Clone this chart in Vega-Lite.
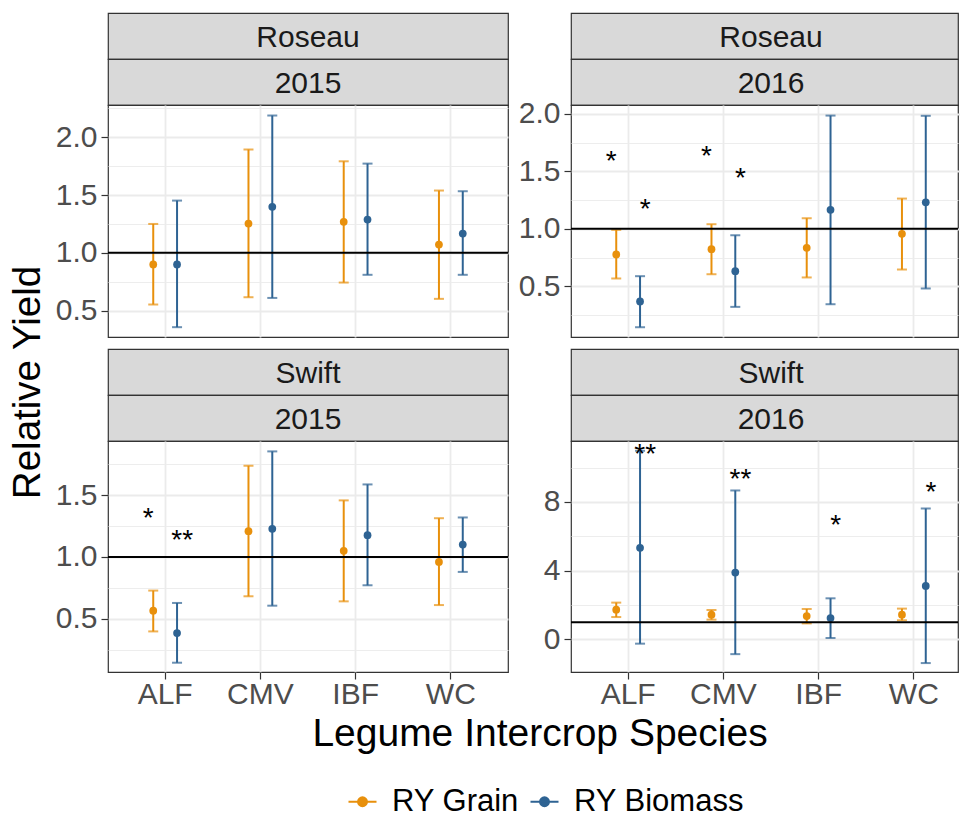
{
"$schema": "https://vega.github.io/schema/vega-lite/v6.json",
"padding": {"left": 9, "top": 12, "right": 0, "bottom": 0},
"background": "white",
"config": {"font": "Liberation Sans", "view": {"stroke": null}},
"datasets": {
"ry": [
{"location":"Roseau","year":"2015","species":"ALF","measure":"RY Grain","ry":0.90,"lo":0.553,"hi":1.25},
{"location":"Roseau","year":"2015","species":"ALF","measure":"RY Biomass","ry":0.90,"lo":0.357,"hi":1.452},
{"location":"Roseau","year":"2015","species":"CMV","measure":"RY Grain","ry":1.253,"lo":0.616,"hi":1.894},
{"location":"Roseau","year":"2015","species":"CMV","measure":"RY Biomass","ry":1.398,"lo":0.61,"hi":2.188},
{"location":"Roseau","year":"2015","species":"IBF","measure":"RY Grain","ry":1.268,"lo":0.743,"hi":1.792},
{"location":"Roseau","year":"2015","species":"IBF","measure":"RY Biomass","ry":1.288,"lo":0.81,"hi":1.772},
{"location":"Roseau","year":"2015","species":"WC","measure":"RY Grain","ry":1.072,"lo":0.602,"hi":1.539},
{"location":"Roseau","year":"2015","species":"WC","measure":"RY Biomass","ry":1.167,"lo":0.81,"hi":1.533},
{"location":"Roseau","year":"2016","species":"ALF","measure":"RY Grain","ry":0.777,"lo":0.568,"hi":0.991},
{"location":"Roseau","year":"2016","species":"ALF","measure":"RY Biomass","ry":0.368,"lo":0.144,"hi":0.588},
{"location":"Roseau","year":"2016","species":"CMV","measure":"RY Grain","ry":0.823,"lo":0.605,"hi":1.04},
{"location":"Roseau","year":"2016","species":"CMV","measure":"RY Biomass","ry":0.631,"lo":0.321,"hi":0.944},
{"location":"Roseau","year":"2016","species":"IBF","measure":"RY Grain","ry":0.835,"lo":0.577,"hi":1.092},
{"location":"Roseau","year":"2016","species":"IBF","measure":"RY Biomass","ry":1.165,"lo":0.344,"hi":1.985},
{"location":"Roseau","year":"2016","species":"WC","measure":"RY Grain","ry":0.957,"lo":0.646,"hi":1.263},
{"location":"Roseau","year":"2016","species":"WC","measure":"RY Biomass","ry":1.231,"lo":0.481,"hi":1.983},
{"location":"Swift","year":"2015","species":"ALF","measure":"RY Grain","ry":0.566,"lo":0.398,"hi":0.728},
{"location":"Swift","year":"2015","species":"ALF","measure":"RY Biomass","ry":0.385,"lo":0.145,"hi":0.628},
{"location":"Swift","year":"2015","species":"CMV","measure":"RY Grain","ry":1.208,"lo":0.682,"hi":1.737},
{"location":"Swift","year":"2015","species":"CMV","measure":"RY Biomass","ry":1.227,"lo":0.606,"hi":1.853},
{"location":"Swift","year":"2015","species":"IBF","measure":"RY Grain","ry":1.049,"lo":0.641,"hi":1.457},
{"location":"Swift","year":"2015","species":"IBF","measure":"RY Biomass","ry":1.176,"lo":0.771,"hi":1.586},
{"location":"Swift","year":"2015","species":"WC","measure":"RY Grain","ry":0.960,"lo":0.611,"hi":1.313},
{"location":"Swift","year":"2015","species":"WC","measure":"RY Biomass","ry":1.10,"lo":0.879,"hi":1.319},
{"location":"Swift","year":"2016","species":"ALF","measure":"RY Grain","ry":1.73,"lo":1.30,"hi":2.14},
{"location":"Swift","year":"2016","species":"ALF","measure":"RY Biomass","ry":5.33,"lo":-0.25,"hi":10.98},
{"location":"Swift","year":"2016","species":"CMV","measure":"RY Grain","ry":1.44,"lo":1.15,"hi":1.71},
{"location":"Swift","year":"2016","species":"CMV","measure":"RY Biomass","ry":3.89,"lo":-0.86,"hi":8.67},
{"location":"Swift","year":"2016","species":"IBF","measure":"RY Grain","ry":1.36,"lo":0.93,"hi":1.77},
{"location":"Swift","year":"2016","species":"IBF","measure":"RY Biomass","ry":1.24,"lo":0.08,"hi":2.39},
{"location":"Swift","year":"2016","species":"WC","measure":"RY Grain","ry":1.44,"lo":1.11,"hi":1.79},
{"location":"Swift","year":"2016","species":"WC","measure":"RY Biomass","ry":3.11,"lo":-1.38,"hi":7.62}
],
"stars": [
{"location":"Roseau","year":"2016","species":"ALF","measure":"RY Grain","label":"*","y":1.623},
{"location":"Roseau","year":"2016","species":"ALF","measure":"RY Biomass","label":"*","y":1.211},
{"location":"Roseau","year":"2016","species":"CMV","measure":"RY Grain","label":"*","y":1.666},
{"location":"Roseau","year":"2016","species":"CMV","measure":"RY Biomass","label":"*","y":1.478},
{"location":"Swift","year":"2015","species":"ALF","measure":"RY Grain","label":"*","y":1.35},
{"location":"Swift","year":"2015","species":"ALF","measure":"RY Biomass","label":"**","y":1.168},
{"location":"Swift","year":"2016","species":"ALF","measure":"RY Biomass","label":"**","y":11.02},
{"location":"Swift","year":"2016","species":"CMV","measure":"RY Biomass","label":"**","y":9.56},
{"location":"Swift","year":"2016","species":"IBF","measure":"RY Biomass","label":"*","y":6.90},
{"location":"Swift","year":"2016","species":"WC","measure":"RY Biomass","label":"*","y":8.79}
]
},
"spacing": 6,
"hconcat": [
{
"width": 30, "height": 300,
"data": {"values": [{"t": "Relative Yield"}]},
"mark": {"type": "text", "angle": 270, "fontSize": 38.5, "color": "#000000", "baseline": "middle"},
"encoding": {"y": {"field": "t", "type": "nominal", "axis": null, "scale": {"range": [0, 739]}}, "text": {"field": "t"}}
},
{
"spacing": 4,
"vconcat": [
{
"spacing": 10,
"vconcat": [
{
"spacing": 7,
"hconcat": [
{
"spacing": 0, "bounds": "flush",
"vconcat": [
{"width": 400, "height": 46, "view": {"fill": "#d9d9d9", "stroke": "#333333", "strokeWidth": 1.2}, "data": {"values": [{"s": "Roseau"}]}, "mark": {"type": "text", "fontSize": 30, "color": "#1a1a1a", "baseline": "middle", "dy": 1.5}, "encoding": {"x": {"field": "s", "type": "nominal", "axis": null, "scale": {"range": [0, 400]}}, "text": {"field": "s"}}},
{"width": 400, "height": 46, "view": {"fill": "#d9d9d9", "stroke": "#333333", "strokeWidth": 1.2}, "data": {"values": [{"s": "2015"}]}, "mark": {"type": "text", "fontSize": 30, "color": "#1a1a1a", "baseline": "middle", "dy": 1.5}, "encoding": {"x": {"field": "s", "type": "nominal", "axis": null, "scale": {"range": [0, 400]}}, "text": {"field": "s"}}},
{
"width": 400, "height": 232,
"view": {"stroke": "#333333", "strokeWidth": 1.2},
"layer": [
{
"data": {"name": "ry"},
"transform": [{"filter": "datum.location === 'Roseau' && datum.year === '2015'"}],
"encoding": {
"x": {"field": "species", "type": "nominal", "title": null, "scale": {"domain": ["ALF","CMV","IBF","WC"], "paddingInner": 0.5, "paddingOuter": 0.35}, "axis": {"title": null, "labels": false, "ticks": false, "domain": false, "grid": true, "gridColor": "#ebebeb", "gridWidth": 1.8, "bandPosition": 0.5}},
"xOffset": {"field": "measure", "type": "nominal", "scale": {"domain": ["RY Grain","RY Biomass"]}},
"color": {"field": "measure", "type": "nominal", "scale": {"domain": ["RY Grain","RY Biomass"], "range": ["#E8900C","#2E6393"]}, "legend": {"title": null, "orient": "none", "legendX": 334, "legendY": 773, "direction": "horizontal", "labelFontSize": 31, "labelLimit": 0, "labelColor": "#000000", "symbolType": "M-1,0H1M-0.32,0A0.32,0.32,0,1,1,0.32,0A0.32,0.32,0,1,1,-0.32,0Z", "symbolSize": 784, "symbolStrokeWidth": 2, "labelOffset": 14, "columnPadding": 7, "encode": {"symbols": {"update": {"stroke": {"scale": "color", "field": "value"}, "fill": {"scale": "color", "field": "value"}, "opacity": {"value": 1}}}}}}
},
"layer": [
{"mark": {"type": "rule", "strokeWidth": 2}, "encoding": {"y": {"field": "lo", "type": "quantitative", "title": null, "scale": {"domain": [0.272, 2.279], "nice": false, "zero": false}, "axis": {"title": null, "orient": "left", "values": [0.5,1,1.5,2], "format": ".1f", "labelOverlap": false, "tickSize": 7, "tickWidth": 1.2, "tickColor": "#333333", "grid": true, "gridColor": "#ebebeb", "gridWidth": 1.8, "domain": false, "labelFontSize": 30, "labelColor": "#4d4d4d", "labelPadding": 4, "minExtent": 53, "maxExtent": 53}}, "y2": {"field": "hi"}}},
{"mark": {"type": "tick", "thickness": 2, "size": 10}, "encoding": {"y": {"field": "lo", "type": "quantitative", "title": null}}},
{"mark": {"type": "tick", "thickness": 2, "size": 10}, "encoding": {"y": {"field": "hi", "type": "quantitative", "title": null}}},
{"mark": {"type": "point", "filled": true, "size": 60, "opacity": 1}, "encoding": {"y": {"field": "ry", "type": "quantitative", "title": null}}}
]
},
{"data": {"values": [{"ref": 1}]}, "mark": {"type": "rule", "color": "black", "strokeWidth": 2}, "encoding": {"y": {"field": "ref", "type": "quantitative", "title": null, "axis": {"title": null, "orient": "left", "values": [0.75,1.25,1.75,2.25], "labels": false, "ticks": false, "domain": false, "grid": true, "gridColor": "#ebebeb", "gridWidth": 0.9, "minExtent": 0, "maxExtent": 0}}}}
],
"resolve": {"axis": {"y": "independent"}}
}
]
},
{
"spacing": 0, "bounds": "flush",
"vconcat": [
{"width": 387, "height": 46, "view": {"fill": "#d9d9d9", "stroke": "#333333", "strokeWidth": 1.2}, "data": {"values": [{"s": "Roseau"}]}, "mark": {"type": "text", "fontSize": 30, "color": "#1a1a1a", "baseline": "middle", "dy": 1.5}, "encoding": {"x": {"field": "s", "type": "nominal", "axis": null, "scale": {"range": [0, 400]}}, "text": {"field": "s"}}},
{"width": 387, "height": 46, "view": {"fill": "#d9d9d9", "stroke": "#333333", "strokeWidth": 1.2}, "data": {"values": [{"s": "2016"}]}, "mark": {"type": "text", "fontSize": 30, "color": "#1a1a1a", "baseline": "middle", "dy": 1.5}, "encoding": {"x": {"field": "s", "type": "nominal", "axis": null, "scale": {"range": [0, 400]}}, "text": {"field": "s"}}},
{
"width": 387, "height": 232,
"view": {"stroke": "#333333", "strokeWidth": 1.2},
"layer": [
{
"data": {"name": "ry"},
"transform": [{"filter": "datum.location === 'Roseau' && datum.year === '2016'"}],
"encoding": {
"x": {"field": "species", "type": "nominal", "title": null, "scale": {"domain": ["ALF","CMV","IBF","WC"], "paddingInner": 0.5, "paddingOuter": 0.35, "range": [0, 400]}, "axis": {"title": null, "labels": false, "ticks": false, "domain": false, "grid": true, "gridColor": "#ebebeb", "gridWidth": 1.8, "bandPosition": 0.5}},
"xOffset": {"field": "measure", "type": "nominal", "scale": {"domain": ["RY Grain","RY Biomass"]}},
"color": {"field": "measure", "type": "nominal", "scale": {"domain": ["RY Grain","RY Biomass"], "range": ["#E8900C","#2E6393"]}, "legend": {"title": null, "orient": "none", "legendX": 334, "legendY": 773, "direction": "horizontal", "labelFontSize": 31, "labelLimit": 0, "labelColor": "#000000", "symbolType": "M-1,0H1M-0.32,0A0.32,0.32,0,1,1,0.32,0A0.32,0.32,0,1,1,-0.32,0Z", "symbolSize": 784, "symbolStrokeWidth": 2, "labelOffset": 14, "columnPadding": 7, "encode": {"symbols": {"update": {"stroke": {"scale": "color", "field": "value"}, "fill": {"scale": "color", "field": "value"}, "opacity": {"value": 1}}}}}}
},
"layer": [
{"mark": {"type": "rule", "strokeWidth": 2}, "encoding": {"y": {"field": "lo", "type": "quantitative", "title": null, "scale": {"domain": [0.059, 2.077], "nice": false, "zero": false}, "axis": {"title": null, "orient": "left", "values": [0.5,1,1.5,2], "format": ".1f", "labelOverlap": false, "tickSize": 7, "tickWidth": 1.2, "tickColor": "#333333", "grid": true, "gridColor": "#ebebeb", "gridWidth": 1.8, "domain": false, "labelFontSize": 30, "labelColor": "#4d4d4d", "labelPadding": 4, "minExtent": 53, "maxExtent": 53}}, "y2": {"field": "hi"}}},
{"mark": {"type": "tick", "thickness": 2, "size": 10}, "encoding": {"y": {"field": "lo", "type": "quantitative", "title": null}}},
{"mark": {"type": "tick", "thickness": 2, "size": 10}, "encoding": {"y": {"field": "hi", "type": "quantitative", "title": null}}},
{"mark": {"type": "point", "filled": true, "size": 60, "opacity": 1}, "encoding": {"y": {"field": "ry", "type": "quantitative", "title": null}}}
]
},
{"data": {"values": [{"ref": 1}]}, "mark": {"type": "rule", "color": "black", "strokeWidth": 2}, "encoding": {"y": {"field": "ref", "type": "quantitative", "title": null, "axis": {"title": null, "orient": "left", "values": [0.25,0.75,1.25,1.75], "labels": false, "ticks": false, "domain": false, "grid": true, "gridColor": "#ebebeb", "gridWidth": 0.9, "minExtent": 0, "maxExtent": 0}}}},
{"data": {"name": "stars"}, "transform": [{"filter": "datum.location === 'Roseau' && datum.year === '2016'"}], "mark": {"type": "text", "fontSize": 28, "baseline": "middle", "dy": 5, "clip": true, "color": "#000000"}, "encoding": {"x": {"field": "species", "type": "nominal", "title": null}, "xOffset": {"field": "measure", "type": "nominal", "scale": {"type": "point", "domain": ["RY Grain","RY Biomass"], "padding": 0.2}}, "y": {"field": "y", "type": "quantitative", "title": null, "axis": null}, "text": {"field": "label"}}}
],
"resolve": {"scale": {"xOffset": "independent"}, "axis": {"y": "independent"}}
}
]
}
]
},
{
"spacing": 7,
"hconcat": [
{
"spacing": 0, "bounds": "flush",
"vconcat": [
{"width": 400, "height": 46, "view": {"fill": "#d9d9d9", "stroke": "#333333", "strokeWidth": 1.2}, "data": {"values": [{"s": "Swift"}]}, "mark": {"type": "text", "fontSize": 30, "color": "#1a1a1a", "baseline": "middle", "dy": 1.5}, "encoding": {"x": {"field": "s", "type": "nominal", "axis": null, "scale": {"range": [0, 400]}}, "text": {"field": "s"}}},
{"width": 400, "height": 46, "view": {"fill": "#d9d9d9", "stroke": "#333333", "strokeWidth": 1.2}, "data": {"values": [{"s": "2015"}]}, "mark": {"type": "text", "fontSize": 30, "color": "#1a1a1a", "baseline": "middle", "dy": 1.5}, "encoding": {"x": {"field": "s", "type": "nominal", "axis": null, "scale": {"range": [0, 400]}}, "text": {"field": "s"}}},
{
"width": 400, "height": 231,
"view": {"stroke": "#333333", "strokeWidth": 1.2},
"layer": [
{
"data": {"name": "ry"},
"transform": [{"filter": "datum.location === 'Swift' && datum.year === '2015'"}],
"encoding": {
"x": {"field": "species", "type": "nominal", "title": null, "scale": {"domain": ["ALF","CMV","IBF","WC"], "paddingInner": 0.5, "paddingOuter": 0.35}, "axis": {"title": null, "labels": true, "ticks": true, "tickSize": 7, "tickWidth": 1.2, "tickColor": "#333333", "domain": false, "grid": true, "gridColor": "#ebebeb", "gridWidth": 1.8, "bandPosition": 0.5, "labelFontSize": 30, "labelColor": "#4d4d4d", "labelPadding": 0.5, "labelAngle": 0}},
"xOffset": {"field": "measure", "type": "nominal", "scale": {"domain": ["RY Grain","RY Biomass"]}},
"color": {"field": "measure", "type": "nominal", "scale": {"domain": ["RY Grain","RY Biomass"], "range": ["#E8900C","#2E6393"]}, "legend": {"title": null, "orient": "none", "legendX": 334, "legendY": 773, "direction": "horizontal", "labelFontSize": 31, "labelLimit": 0, "labelColor": "#000000", "symbolType": "M-1,0H1M-0.32,0A0.32,0.32,0,1,1,0.32,0A0.32,0.32,0,1,1,-0.32,0Z", "symbolSize": 784, "symbolStrokeWidth": 2, "labelOffset": 14, "columnPadding": 7, "encode": {"symbols": {"update": {"stroke": {"scale": "color", "field": "value"}, "fill": {"scale": "color", "field": "value"}, "opacity": {"value": 1}}}}}}
},
"layer": [
{"mark": {"type": "rule", "strokeWidth": 2}, "encoding": {"y": {"field": "lo", "type": "quantitative", "title": null, "scale": {"domain": [0.070, 1.937], "nice": false, "zero": false}, "axis": {"title": null, "orient": "left", "values": [0.5,1,1.5], "format": ".1f", "labelOverlap": false, "tickSize": 7, "tickWidth": 1.2, "tickColor": "#333333", "grid": true, "gridColor": "#ebebeb", "gridWidth": 1.8, "domain": false, "labelFontSize": 30, "labelColor": "#4d4d4d", "labelPadding": 4, "minExtent": 53, "maxExtent": 53}}, "y2": {"field": "hi"}}},
{"mark": {"type": "tick", "thickness": 2, "size": 10}, "encoding": {"y": {"field": "lo", "type": "quantitative", "title": null}}},
{"mark": {"type": "tick", "thickness": 2, "size": 10}, "encoding": {"y": {"field": "hi", "type": "quantitative", "title": null}}},
{"mark": {"type": "point", "filled": true, "size": 60, "opacity": 1}, "encoding": {"y": {"field": "ry", "type": "quantitative", "title": null}}}
]
},
{"data": {"values": [{"ref": 1}]}, "mark": {"type": "rule", "color": "black", "strokeWidth": 2}, "encoding": {"y": {"field": "ref", "type": "quantitative", "title": null, "axis": {"title": null, "orient": "left", "values": [0.25,0.75,1.25,1.75], "labels": false, "ticks": false, "domain": false, "grid": true, "gridColor": "#ebebeb", "gridWidth": 0.9, "minExtent": 0, "maxExtent": 0}}}},
{"data": {"name": "stars"}, "transform": [{"filter": "datum.location === 'Swift' && datum.year === '2015'"}], "mark": {"type": "text", "fontSize": 28, "baseline": "middle", "dy": 5, "clip": true, "color": "#000000"}, "encoding": {"x": {"field": "species", "type": "nominal", "title": null}, "xOffset": {"field": "measure", "type": "nominal", "scale": {"type": "point", "domain": ["RY Grain","RY Biomass"], "padding": 0.2}}, "y": {"field": "y", "type": "quantitative", "title": null, "axis": null}, "text": {"field": "label"}}}
],
"resolve": {"scale": {"xOffset": "independent"}, "axis": {"y": "independent"}}
}
]
},
{
"spacing": 0, "bounds": "flush",
"vconcat": [
{"width": 387, "height": 46, "view": {"fill": "#d9d9d9", "stroke": "#333333", "strokeWidth": 1.2}, "data": {"values": [{"s": "Swift"}]}, "mark": {"type": "text", "fontSize": 30, "color": "#1a1a1a", "baseline": "middle", "dy": 1.5}, "encoding": {"x": {"field": "s", "type": "nominal", "axis": null, "scale": {"range": [0, 400]}}, "text": {"field": "s"}}},
{"width": 387, "height": 46, "view": {"fill": "#d9d9d9", "stroke": "#333333", "strokeWidth": 1.2}, "data": {"values": [{"s": "2016"}]}, "mark": {"type": "text", "fontSize": 30, "color": "#1a1a1a", "baseline": "middle", "dy": 1.5}, "encoding": {"x": {"field": "s", "type": "nominal", "axis": null, "scale": {"range": [0, 400]}}, "text": {"field": "s"}}},
{
"width": 387, "height": 231,
"view": {"stroke": "#333333", "strokeWidth": 1.2},
"layer": [
{
"data": {"name": "ry"},
"transform": [{"filter": "datum.location === 'Swift' && datum.year === '2016'"}],
"encoding": {
"x": {"field": "species", "type": "nominal", "title": null, "scale": {"domain": ["ALF","CMV","IBF","WC"], "paddingInner": 0.5, "paddingOuter": 0.35, "range": [0, 400]}, "axis": {"title": null, "labels": true, "ticks": true, "tickSize": 7, "tickWidth": 1.2, "tickColor": "#333333", "domain": false, "grid": true, "gridColor": "#ebebeb", "gridWidth": 1.8, "bandPosition": 0.5, "labelFontSize": 30, "labelColor": "#4d4d4d", "labelPadding": 0.5, "labelAngle": 0}},
"xOffset": {"field": "measure", "type": "nominal", "scale": {"domain": ["RY Grain","RY Biomass"]}},
"color": {"field": "measure", "type": "nominal", "scale": {"domain": ["RY Grain","RY Biomass"], "range": ["#E8900C","#2E6393"]}, "legend": {"title": null, "orient": "none", "legendX": 334, "legendY": 773, "direction": "horizontal", "labelFontSize": 31, "labelLimit": 0, "labelColor": "#000000", "symbolType": "M-1,0H1M-0.32,0A0.32,0.32,0,1,1,0.32,0A0.32,0.32,0,1,1,-0.32,0Z", "symbolSize": 784, "symbolStrokeWidth": 2, "labelOffset": 14, "columnPadding": 7, "encode": {"symbols": {"update": {"stroke": {"scale": "color", "field": "value"}, "fill": {"scale": "color", "field": "value"}, "opacity": {"value": 1}}}}}}
},
"layer": [
{"mark": {"type": "rule", "strokeWidth": 2}, "encoding": {"y": {"field": "lo", "type": "quantitative", "title": null, "scale": {"domain": [-1.9, 11.55], "nice": false, "zero": false}, "axis": {"title": null, "orient": "left", "values": [0,4,8], "format": "d", "labelOverlap": false, "tickSize": 7, "tickWidth": 1.2, "tickColor": "#333333", "grid": true, "gridColor": "#ebebeb", "gridWidth": 1.8, "domain": false, "labelFontSize": 30, "labelColor": "#4d4d4d", "labelPadding": 4, "minExtent": 53, "maxExtent": 53}}, "y2": {"field": "hi"}}},
{"mark": {"type": "tick", "thickness": 2, "size": 10}, "encoding": {"y": {"field": "lo", "type": "quantitative", "title": null}}},
{"mark": {"type": "tick", "thickness": 2, "size": 10}, "encoding": {"y": {"field": "hi", "type": "quantitative", "title": null}}},
{"mark": {"type": "point", "filled": true, "size": 60, "opacity": 1}, "encoding": {"y": {"field": "ry", "type": "quantitative", "title": null}}}
]
},
{"data": {"values": [{"ref": 1}]}, "mark": {"type": "rule", "color": "black", "strokeWidth": 2}, "encoding": {"y": {"field": "ref", "type": "quantitative", "title": null, "axis": {"title": null, "orient": "left", "values": [2,6,10], "labels": false, "ticks": false, "domain": false, "grid": true, "gridColor": "#ebebeb", "gridWidth": 0.9, "minExtent": 0, "maxExtent": 0}}}},
{"data": {"name": "stars"}, "transform": [{"filter": "datum.location === 'Swift' && datum.year === '2016'"}], "mark": {"type": "text", "fontSize": 28, "baseline": "middle", "dy": 5, "clip": true, "color": "#000000"}, "encoding": {"x": {"field": "species", "type": "nominal", "title": null}, "xOffset": {"field": "measure", "type": "nominal", "scale": {"type": "point", "domain": ["RY Grain","RY Biomass"], "padding": 0.2}}, "y": {"field": "y", "type": "quantitative", "title": null, "axis": null}, "text": {"field": "label"}}}
],
"resolve": {"scale": {"xOffset": "independent"}, "axis": {"y": "independent"}}
}
]
}
]
}
]
},
{
"width": 400, "height": 40,
"data": {"values": [{"t": "Legume Intercrop Species"}]},
"mark": {"type": "text", "fontSize": 39, "color": "#000000", "baseline": "alphabetic"},
"encoding": {"x": {"field": "t", "type": "nominal", "axis": null, "scale": {"range": [0, 864]}}, "text": {"field": "t"}}
}
]
}
]
}
